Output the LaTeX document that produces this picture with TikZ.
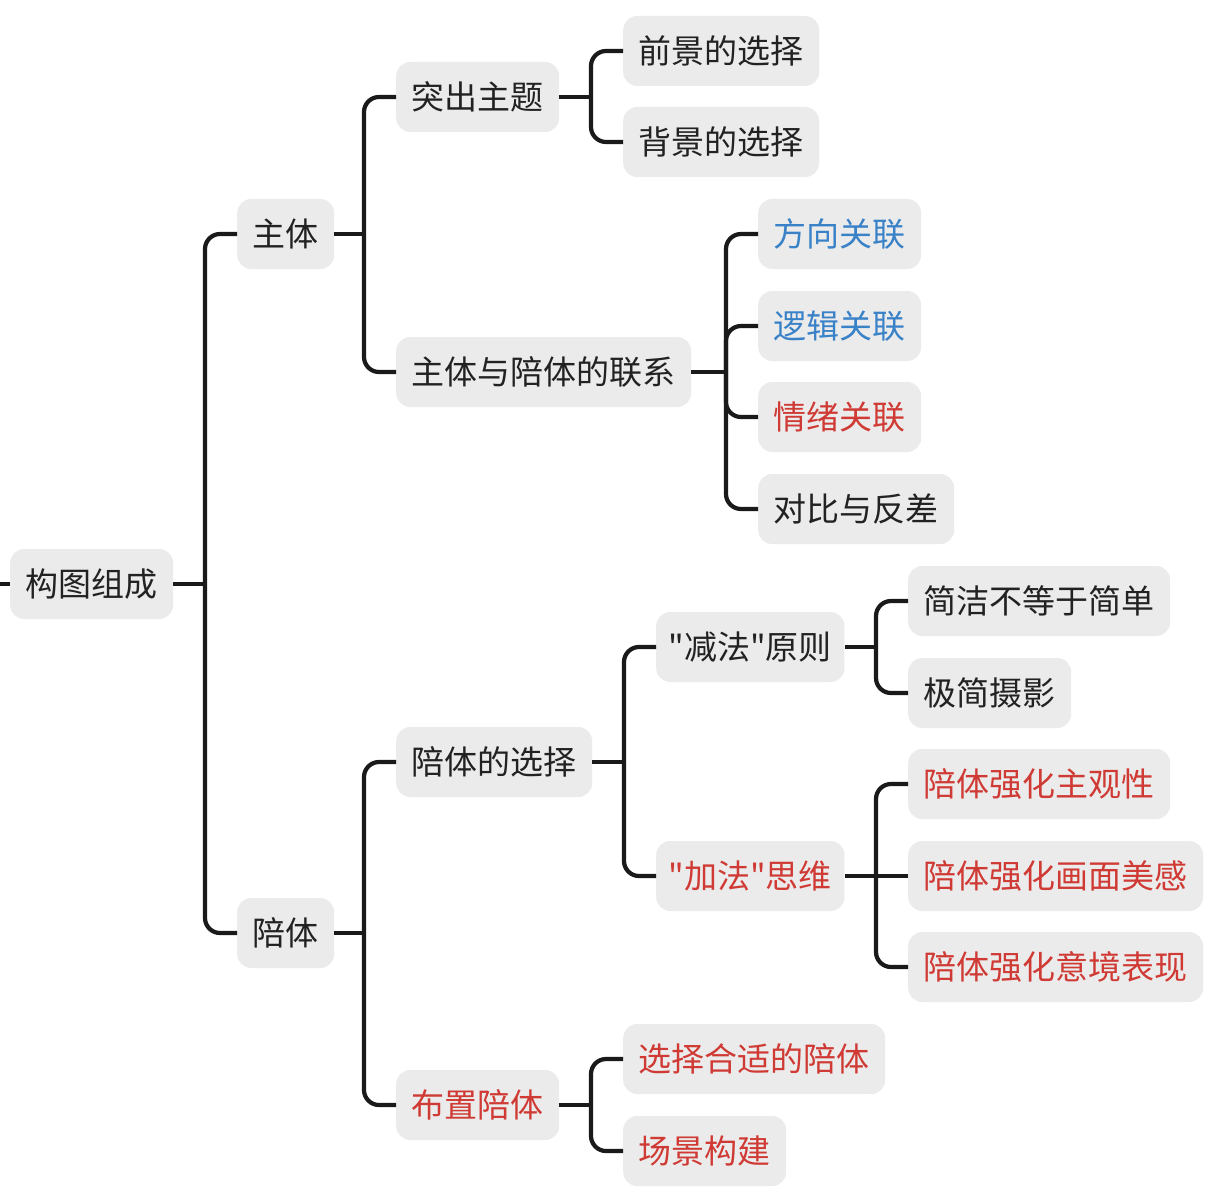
\documentclass[tikz,border=0pt]{standalone}
\usepackage{fontspec}
\newfontfamily\cjk{Noto Sans CJK SC}
\definecolor{boxfill}{HTML}{EBEBEB}
\definecolor{txtblack}{HTML}{222222}
\definecolor{txtblue}{HTML}{3A82C8}
\definecolor{txtred}{HTML}{D03A34}
\definecolor{linecol}{HTML}{1A1A1A}
\tikzset{
  topic/.style={anchor=west, fill=boxfill, rounded corners=14pt, minimum height=70pt,
    inner xsep=15.5pt, inner ysep=0pt, font=\cjk\fontsize{33pt}{36pt}\selectfont,
    text=txtblack, text height=28pt, text depth=3pt},
  quoted/.style={inner xsep=12.5pt},
  blue/.style={text=txtblue},
  red/.style={text=txtred},
  conn/.style={draw=linecol, line width=4.2pt, rounded corners=15pt},
  stub/.style={draw=linecol, line width=4.2pt},
}
\begin{document}
\begin{tikzpicture}[x=1pt,y=-1pt]
\useasboundingbox (0,0) rectangle (1222,1198);
% nodes
\node[topic] (root) at (10,584) {构图组成};
\node[topic] (zt) at (237,234) {主体};
\node[topic] (pt) at (237,933) {陪体};
\node[topic] (tczt) at (396,97) {突出主题};
\node[topic] (lx) at (396,372) {主体与陪体的联系};
\node[topic] (qj) at (623,51) {前景的选择};
\node[topic] (bj) at (623,142) {背景的选择};
\node[topic,blue] (fx) at (758,234) {方向关联};
\node[topic,blue] (lj) at (758,326) {逻辑关联};
\node[topic,red] (qx) at (758,417) {情绪关联};
\node[topic] (db) at (758,509) {对比与反差};
\node[topic] (xz) at (396,762) {陪体的选择};
\node[topic,red] (bz) at (396,1105) {布置陪体};
\node[topic,quoted] (jf) at (656,647) {"减法"原则};
\node[topic,quoted,red] (jia) at (656,876) {"加法"思维};
\node[topic] (jj) at (908,601) {简洁不等于简单};
\node[topic] (jjsy) at (908,693) {极简摄影};
\node[topic,red] (zg) at (908,784) {陪体强化主观性};
\node[topic,red] (mg) at (908,876) {陪体强化画面美感};
\node[topic,red] (yj) at (908,967) {陪体强化意境表现};
\node[topic,red] (hs) at (623,1059) {选择合适的陪体};
\node[topic,red] (cj) at (623,1151) {场景构建};
% junctions
\coordinate (L) at (0,584);
\coordinate (j0) at (205,584);
\coordinate (j1) at (364,234);
\coordinate (j2) at (591,97);
\coordinate (j3) at (726,372);
\coordinate (j4) at (364,933);
\coordinate (j5) at (624,762);
\coordinate (j6) at (876,647);
\coordinate (j7) at (876,876);
\coordinate (j8) at (591,1105);
% connectors
\draw[stub] (L) -- (root.west);
\draw[stub] (root.east) -- (j0);
\draw[conn] (j0) |- (zt.west);
\draw[conn] (j0) |- (pt.west);
\draw[stub] (zt.east) -- (j1);
\draw[conn] (j1) |- (tczt.west);
\draw[conn] (j1) |- (lx.west);
\draw[stub] (tczt.east) -- (j2);
\draw[conn] (j2) |- (qj.west);
\draw[conn] (j2) |- (bj.west);
\draw[stub] (lx.east) -- (j3);
\draw[conn] (j3) |- (fx.west);
\draw[conn] (j3) |- (lj.west);
\draw[conn] (j3) |- (qx.west);
\draw[conn] (j3) |- (db.west);
\draw[stub] (pt.east) -- (j4);
\draw[conn] (j4) |- (xz.west);
\draw[conn] (j4) |- (bz.west);
\draw[stub] (xz.east) -- (j5);
\draw[conn] (j5) |- (jf.west);
\draw[conn] (j5) |- (jia.west);
\draw[stub] (jf.east) -- (j6);
\draw[conn] (j6) |- (jj.west);
\draw[conn] (j6) |- (jjsy.west);
\draw[stub] (jia.east) -- (j7);
\draw[conn] (j7) |- (zg.west);
\draw[conn] (j7) -- (mg.west);
\draw[conn] (j7) |- (yj.west);
\draw[stub] (bz.east) -- (j8);
\draw[conn] (j8) |- (hs.west);
\draw[conn] (j8) |- (cj.west);
\end{tikzpicture}
\end{document}
